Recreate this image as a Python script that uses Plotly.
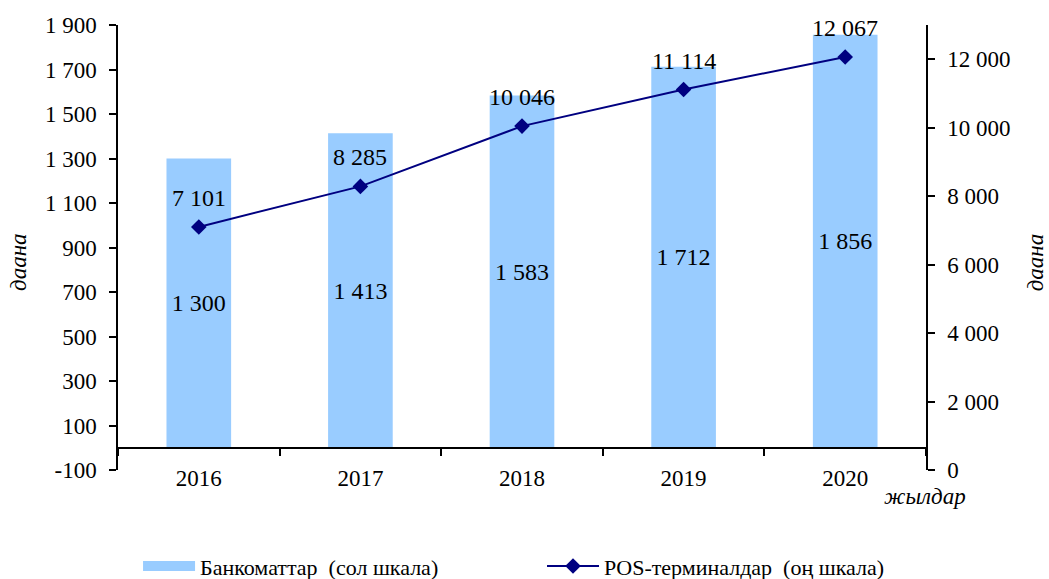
import plotly.graph_objects as go

years = ["2016", "2017", "2018", "2019", "2020"]
atms = [1300, 1413, 1583, 1712, 1856]
pos_terminals = [7101, 8285, 10046, 11114, 12067]

left_ticks = list(range(-100, 2000, 200))
right_ticks = list(range(0, 13000, 2000))

FONT = "Liberation Serif"
BAR_COLOR = "#99CCFF"
LINE_COLOR = "#000080"
ATM_NAME = "Банкоматтар  (сол шкала)"
POS_NAME = "POS-терминалдар  (оң шкала)"


def spaced(v):
    return f"{v:,}".replace(",", " ")


fig = go.Figure()

fig.add_trace(go.Bar(
    x=years, y=atms, name=ATM_NAME, showlegend=False,
    marker=dict(color=BAR_COLOR, line=dict(width=0)),
    width=0.4,
    text=[spaced(v) for v in atms],
    textposition="inside", insidetextanchor="middle",
    textangle=0,
    textfont=dict(family=FONT, size=24, color="black"),
    constraintext="none",
    yaxis="y",
))

# legend entry for the bars: a wide flat swatch
fig.add_trace(go.Scatter(
    x=[None], y=[None], name=ATM_NAME, mode="lines",
    line=dict(color=BAR_COLOR, width=12),
    yaxis="y", hoverinfo="skip", legend="legend",
))

fig.add_trace(go.Scatter(
    x=years, y=pos_terminals, name=POS_NAME,
    mode="lines+markers",
    line=dict(color=LINE_COLOR, width=2),
    marker=dict(symbol="diamond", size=12, color=LINE_COLOR),
    yaxis="y2", legend="legend2",
))

for i, v in enumerate(pos_terminals):
    fig.add_annotation(x=i, y=v, xref="x", yref="y2", text=spaced(v),
                       showarrow=False, yshift=29,
                       font=dict(family=FONT, size=24, color="black"))

legend_common = dict(orientation="h", xref="container", yref="container",
                     xanchor="left", y=0.022, yanchor="middle", itemwidth=52,
                     font=dict(family=FONT, size=22))

fig.update_layout(
    width=1049, height=579,
    margin=dict(l=118, r=123, t=25, b=109, autoexpand=False),
    paper_bgcolor="white", plot_bgcolor="white",
    font=dict(family=FONT, size=22, color="black"),
    showlegend=True,
    legend=dict(x=0.1316, **legend_common),
    legend2=dict(x=0.5167, **legend_common),
    xaxis=dict(
        type="category", categoryorder="array", categoryarray=years,
        range=[-0.5, 4.5], anchor="free", position=0.05,
        showline=True, linecolor="black", linewidth=1.5,
        ticks="outside", ticklen=7, tickcolor="black", tickwidth=1.5,
        tickson="boundaries", ticklabelstandoff=10, tickangle=0,
        showgrid=False, zeroline=False,
        tickfont=dict(family=FONT, size=23),
    ),
    yaxis=dict(
        range=[-100, 1900], tickvals=left_ticks,
        ticktext=[spaced(v) for v in left_ticks],
        showline=True, linecolor="black", linewidth=1.5,
        ticks="outside", ticklen=7, tickcolor="black", tickwidth=1.5,
        showgrid=False, zeroline=False,
        tickfont=dict(family=FONT, size=23),
        ticklabelstandoff=8,
    ),
    yaxis2=dict(
        range=[0, 13000], tickvals=right_ticks,
        ticktext=[spaced(v) for v in right_ticks],
        overlaying="y", side="right",
        showline=True, linecolor="black", linewidth=1.5,
        ticks="outside", ticklen=7, tickcolor="black", tickwidth=1.5,
        showgrid=False, zeroline=False,
        tickfont=dict(family=FONT, size=23),
        ticklabelstandoff=8,
    ),
)

# axis titles
fig.add_annotation(text="<i>даана</i>", xref="paper", yref="paper",
                   x=-0.124, y=0.467, xanchor="center", yanchor="middle",
                   textangle=-90, showarrow=False,
                   font=dict(family=FONT, size=23))
fig.add_annotation(text="<i>даана</i>", xref="paper", yref="paper",
                   x=1.135, y=0.467, xanchor="center", yanchor="middle",
                   textangle=-90, showarrow=False,
                   font=dict(family=FONT, size=23))
fig.add_annotation(text="<i>жылдар</i>", xref="paper", yref="paper",
                   x=0.999, y=-0.06, xanchor="center", yanchor="middle",
                   showarrow=False, font=dict(family=FONT, size=23))

fig.write_html("out.html")
